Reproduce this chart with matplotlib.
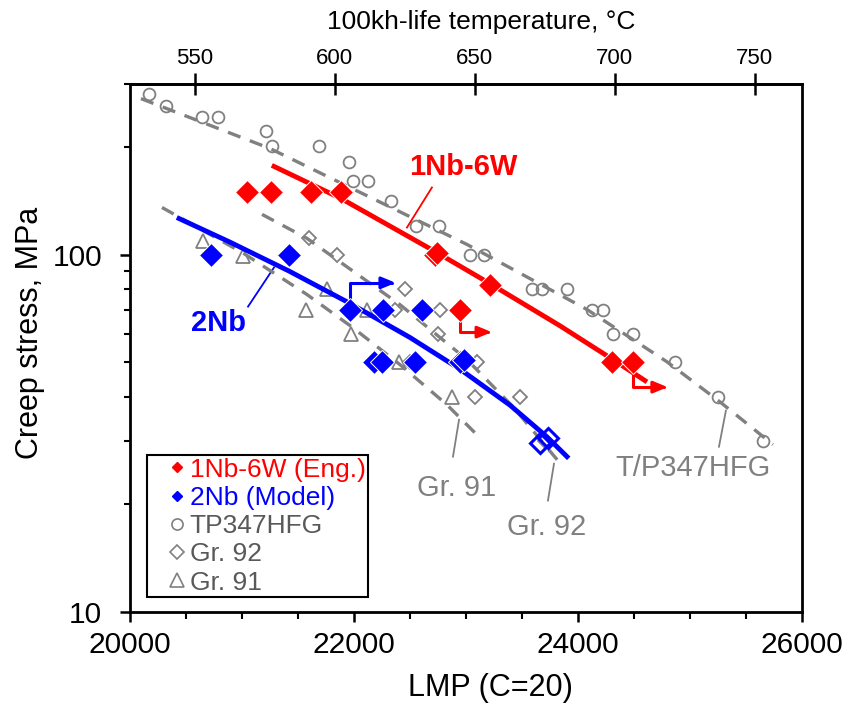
import numpy as np
import matplotlib.pyplot as plt
from matplotlib.lines import Line2D
from matplotlib.ticker import LogLocator, NullFormatter, MultipleLocator

plt.rcParams['font.family'] = ['Liberation Sans', 'DejaVu Sans']

#%% data (LMP, stress in MPa)
tp347_lmp = [20170, 20321, 20643, 20786, 21214, 21268, 21688, 21955, 21991, 22125,
             22330, 22554, 22759, 23036, 23161, 23589, 23679, 23902, 24125, 24223,
             24313, 24491, 24866, 25250, 25652]
tp347_stress = [282, 260, 242, 242, 221, 201, 201, 181, 161, 161,
                141, 120, 120, 100, 100, 80, 80, 80, 70, 70,
                60, 60, 50, 40, 30]

gr92_lmp = [21598, 21848, 22455, 22366, 22768, 22750, 22500, 23098, 23080, 23482, 23705]
gr92_stress = [111, 100, 80, 70, 70, 60, 50, 50, 40, 40, 30]

gr91_lmp = [20652, 21009, 21759, 21571, 22116, 21973, 22402, 22875]
gr91_stress = [109, 99, 80, 70, 70, 60, 50, 40]

nb6w_lmp = [21045, 21259, 21616, 21884, 22723, 22740, 23214, 22946, 24304, 24491]
nb6w_stress = [150, 150, 150, 150, 100, 100.8, 82, 70, 50, 50]

nb2_lmp = [20723, 21420, 21964, 22259, 22607, 22180, 22250, 22545, 22946, 22985]
nb2_stress = [100, 100, 70, 70, 70, 50, 50, 50, 50, 50.8]
nb2_open_lmp = [23661, 23732]
nb2_open_stress = [29.7, 30.6]

# tests still running (arrows)
nb6w_run_lmp = [22946, 24491]
nb6w_run_stress = [70, 50]
nb2_run_lmp = [21964]
nb2_run_stress = [70]

# trend curves
tp347_fit_lmp = [20098, 21250, 23009, 24080, 24795, 25268, 25741]
tp347_fit_stress = [273, 198, 106.7, 70.2, 50.1, 38.7, 29.4]
gr92_fit_lmp = [21179, 21580, 22411, 23009, 23420, 23839]
gr92_fit_stress = [129.5, 111, 72.4, 50.8, 37.5, 26.1]
gr91_fit_lmp = [20286, 21009, 21580, 21991, 22411, 22830, 23125]
gr91_fit_stress = [135.4, 101.0, 77.3, 62.4, 49.2, 38.0, 30.7]
nb6w_fit_lmp = [21286, 21884, 22723, 23214, 23839, 24313, 24598]
nb6w_fit_stress = [176.4, 143.5, 102.0, 82.9, 63.2, 50.8, 44.4]
nb2_fit_lmp = [20438, 20893, 21420, 21964, 22500, 22946, 23393, 23723, 23902]
nb2_fit_stress = [126.1, 108.3, 89.9, 73.0, 58.6, 47.8, 37.9, 30.9, 27.2]

legend_labels = ['1Nb-6W (Eng.)', '2Nb (Model)', 'TP347HFG', 'Gr. 92', 'Gr. 91']

GRAY = '#808080'

#%% figure
fig = plt.figure(figsize=(8.49, 7.08), dpi=100)
ax = fig.add_axes([0.1531, 0.1356, 0.7915, 0.7458])

# reference steels
ax.plot(tp347_lmp, tp347_stress, 'o', ms=8.5, mfc='none', mec=GRAY, mew=1.3, zorder=2)
ax.plot(gr92_lmp, gr92_stress, 'D', ms=7.5, mfc='none', mec=GRAY, mew=1.3, zorder=2)
ax.plot(gr91_lmp, gr91_stress, '^', ms=10.5, mfc='none', mec=GRAY, mew=1.3, zorder=2)

dash = dict(color=GRAY, lw=2.4, ls=(0, (4, 3)), zorder=3)
ax.plot(tp347_fit_lmp, tp347_fit_stress, **dash)
ax.plot(gr92_fit_lmp, gr92_fit_stress, **dash)
ax.plot(gr91_fit_lmp, gr91_fit_stress, **dash)

# new alloys
ax.plot(nb6w_fit_lmp, nb6w_fit_stress, color='red', lw=3.5, zorder=4)
ax.plot(nb2_fit_lmp, nb2_fit_stress, color='blue', lw=3.5, zorder=4)
ax.plot(nb6w_lmp, nb6w_stress, 'D', ms=12, color='red', mec='white', mew=0.7, ls='none', zorder=5)
ax.plot(nb2_lmp, nb2_stress, 'D', ms=12, color='blue', mec='white', mew=0.7, ls='none', zorder=5)
ax.plot(nb2_open_lmp, nb2_open_stress, 'D', ms=10.5, mfc='none', mec='blue', mew=2.2, ls='none', zorder=5)

def runout(x, y, dx, dy, c):
    ax.annotate('', xy=(x, y), xytext=(dx, dy), textcoords='offset points',
                arrowprops=dict(arrowstyle='<|-,head_length=0.85,head_width=0.35', color=c, lw=2.2,
                                connectionstyle='angle,angleA=0,angleB=90,rad=0',
                                shrinkA=0, shrinkB=0), zorder=4)

runout(nb6w_run_lmp[0], nb6w_run_stress[0], 23, -16, 'red')
runout(nb6w_run_lmp[1], nb6w_run_stress[1], 25, -18, 'red')
runout(nb2_run_lmp[0], nb2_run_stress[0], 33, 19.5, 'blue')

# labels with leader lines
ax.text(22973, 176, '1Nb-6W', color='red', fontsize=21, fontweight='bold', ha='center', va='center')
ax.plot([22696, 22473], [154, 119], color='red', lw=1.3)
ax.text(20786, 64.5, '2Nb', color='blue', fontsize=21, fontweight='bold', ha='center', va='center')
ax.plot([21054, 21286], [71.5, 92], color='blue', lw=1.3)
ax.text(22920, 22.2, 'Gr. 91', color=GRAY, fontsize=21, ha='center', va='center')
ax.plot([22884, 22938], [27.2, 34.5], color=GRAY, lw=1.3)
ax.text(23723, 17.3, 'Gr. 92', color=GRAY, fontsize=21, ha='center', va='center')
ax.plot([23732, 23786], [20.5, 26], color=GRAY, lw=1.3)
ax.text(25027, 25.3, 'T/P347HFG', color=GRAY, fontsize=21, ha='center', va='center')
ax.plot([25259, 25321], [29, 36.6], color=GRAY, lw=1.3)

#%% axes
ax.set_yscale('log')
ax.set_xlim(20000, 26000)
ax.set_ylim(10, 300)
ax.set_xticks([20000, 22000, 24000, 26000])
ax.xaxis.set_minor_locator(MultipleLocator(500))
ax.set_yticks([10, 100], labels=['10', '100'])
ax.yaxis.set_minor_locator(LogLocator(base=10, subs=np.arange(2, 10)))
ax.yaxis.set_minor_formatter(NullFormatter())
ax.tick_params(axis='x', which='major', direction='out', length=7, width=1.8, labelsize=21.5, pad=6.5)
ax.tick_params(axis='x', which='minor', direction='out', length=5, width=1.5)
ax.tick_params(axis='y', which='major', direction='out', length=7, width=1.8, labelsize=21.5, pad=13)
ax.tick_params(axis='y', which='minor', direction='out', length=4.5, width=1.5)
for s in ax.spines.values():
    s.set_linewidth(2)

ax.set_xlabel('LMP (C=20)', fontsize=22)
ax.xaxis.set_label_coords(0.536, -0.115)
ax.set_ylabel('Creep stress, MPa', fontsize=22)
ax.yaxis.set_label_coords(-0.127, 0.528)

# top axis: 100kh-life temperature, LMP = (T+273.15)*(20+5)
secax = ax.secondary_xaxis('top', functions=(lambda p: p / 25.0 - 273.15,
                                             lambda t: (t + 273.15) * 25.0))
secax.set_xticks([550, 600, 650, 700, 750])
secax.tick_params(direction='inout', length=16, width=1.8, labelsize=16, pad=2.5)
secax.spines['top'].set_linewidth(2)
secax.set_xlabel('100kh-life temperature, °C', fontsize=19, labelpad=14)
secax.xaxis.label.set_x(0.522)

#%% legend
handles = [
    Line2D([], [], ls='none', marker='D', ms=5.5, color='red'),
    Line2D([], [], ls='none', marker='D', ms=5.5, color='blue'),
    Line2D([], [], ls='none', marker='o', ms=8, mfc='none', mec=GRAY, mew=1.2),
    Line2D([], [], ls='none', marker='D', ms=7, mfc='none', mec=GRAY, mew=1.2),
    Line2D([], [], ls='none', marker='^', ms=10, mfc='none', mec=GRAY, mew=1.2),
]
leg = ax.legend(handles, legend_labels, loc='lower left', bbox_to_anchor=(0.025, 0.028),
                fontsize=19, fancybox=False, edgecolor='black', framealpha=1,
                handlelength=2.1, handletextpad=-0.57, labelspacing=0.16,
                borderpad=0.1, borderaxespad=0)
leg.get_frame().set_linewidth(1.5)
for t, c in zip(leg.get_texts(), ['red', 'blue', '#595959', '#595959', '#595959']):
    t.set_color(c)

plt.savefig('out.png', dpi=100)
